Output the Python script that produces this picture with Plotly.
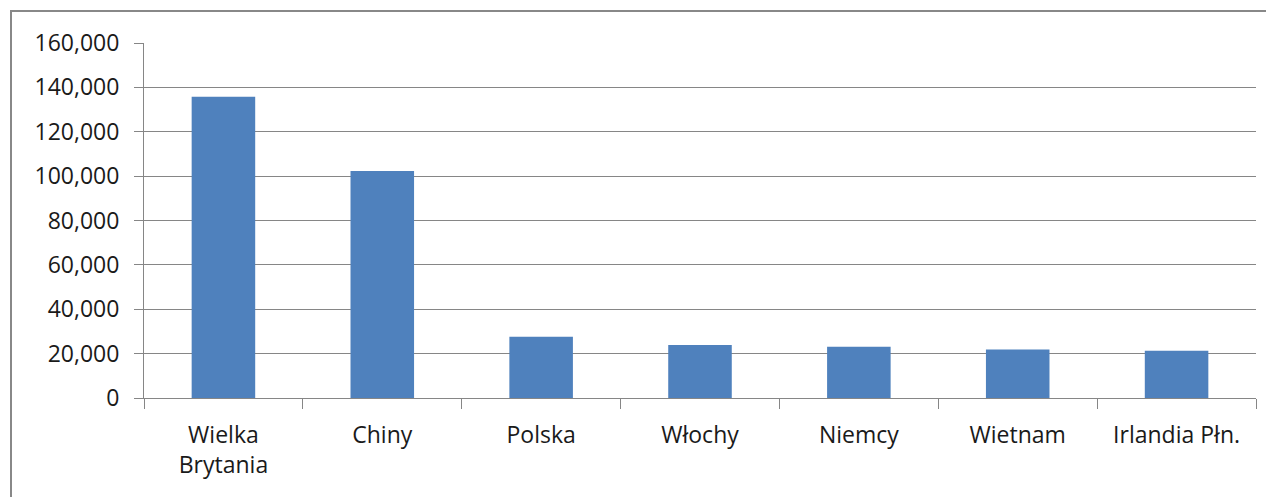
import plotly.graph_objects as go

categories = ["Wielka<br>Brytania", "Chiny", "Polska", "Włochy", "Niemcy", "Wietnam", "Irlandia Płn."]
values = [135800, 102300, 27600, 23900, 23100, 21900, 21300]
y_ticks = [0, 20000, 40000, 60000, 80000, 100000, 120000, 140000, 160000]
y_tick_labels = ["0", "20,000", "40,000", "60,000", "80,000", "100,000", "120,000", "140,000", "160,000"]

OFF = 8  # body margin of the page
W, H = 1274 - OFF, 497 - OFF
L, R, T, B = 144 - OFF, 18, 43 - OFF, 99
pw, ph = W - L - R, H - T - B

fig = go.Figure(go.Bar(x=categories, y=values, marker=dict(color="#4F81BD", line=dict(width=0)), width=0.4))

fig.update_layout(
    width=W, height=H,
    margin=dict(l=L, r=R, t=T, b=B),
    paper_bgcolor="white", plot_bgcolor="white",
    font=dict(family="Open Sans, Noto Sans, sans-serif", size=23, color="#1a1a1a"),
    showlegend=False,
    xaxis=dict(
        showline=True, linecolor="#868686", linewidth=1,
        ticks="outside", ticklen=10, tickcolor="#868686", tickson="boundaries",
        showgrid=False, tickfont=dict(size=23), ticklabelstandoff=16,
    ),
    yaxis=dict(
        range=[0, 160000], tickvals=y_ticks, ticktext=y_tick_labels,
        showline=True, linecolor="#868686", linewidth=1,
        ticks="outside", ticklen=9, tickcolor="#868686",
        showgrid=True, gridcolor="#868686", gridwidth=1, zeroline=False,
        tickfont=dict(size=23), ticklabelstandoff=10,
    ),
    shapes=[dict(
        type="rect", xref="paper", yref="paper",
        x0=(11 - OFF - L) / pw, x1=(W + 20 - L) / pw,
        y0=-(B + 30) / ph, y1=(H - B - (11 - OFF)) / ph,
        line=dict(color="#888888", width=2), layer="above",
    )],
)

fig.write_html("out.html")
